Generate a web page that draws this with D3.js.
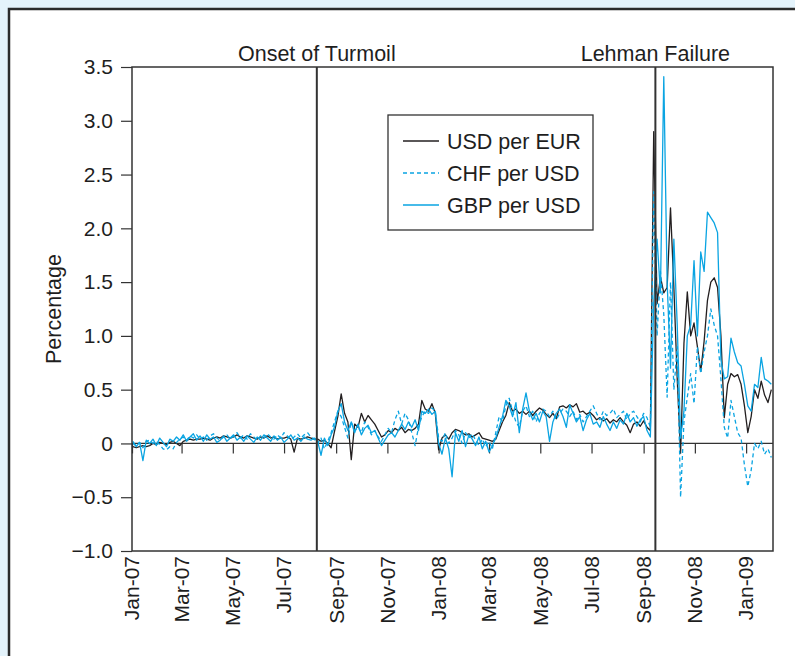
<!DOCTYPE html>
<html>
<head>
<meta charset="utf-8">
<script src="https://cdn.jsdelivr.net/npm/d3@7"></script>
<style>
  html, body { margin: 0; padding: 0; background: #e4f3fb; }
  svg { display: block; font-family: "Liberation Sans", Arial, sans-serif; }
</style>
</head>
<body>
<svg id="canvas" width="795" height="656"></svg>
<script>
// sampled every 4 days starting 2 Jan 2007
const sampleStart = "2007-01-02";
const sampleStepDays = 4;

const usdPerEur = [
  -0.03, -0.04, -0.03, -0.02, -0.03, -0.02, 0.00, -0.01, 0.01, 0.00,
  -0.01, 0.01, 0.02, 0.00, -0.02, 0.02, 0.03, 0.04, 0.03, 0.04,
  0.04, 0.05, 0.04, 0.03, 0.05, 0.06, 0.05, 0.07, 0.06, 0.05,
  0.06, 0.08, 0.06, 0.05, 0.07, 0.06, 0.05, 0.04, 0.06, 0.05,
  0.07, 0.05, 0.06, 0.04, 0.05, 0.05, 0.06, 0.04, -0.08, 0.05,
  0.04, 0.05, 0.06, 0.05, 0.04, 0.04, 0.02, 0.03, 0.00, -0.04,
  0.11, 0.25, 0.46, 0.28, 0.20, -0.15, 0.18, 0.15, 0.28, 0.20,
  0.26, 0.22, 0.18, 0.12, 0.06, 0.08, 0.12, 0.10, 0.14, 0.12,
  0.15, 0.10, 0.13, 0.12, 0.14, 0.18, 0.40, 0.32, 0.30, 0.37,
  0.28, -0.06, 0.05, 0.08, 0.04, 0.10, 0.13, 0.12, 0.10, 0.08,
  0.09, 0.06, 0.08, 0.10, 0.05, 0.04, 0.03, 0.02, 0.04, 0.12,
  0.20, 0.26, 0.38, 0.30, 0.32, 0.28, 0.30, 0.27, 0.30, 0.26,
  0.30, 0.33, 0.31, 0.27, 0.24, 0.28, 0.23, 0.34, 0.35, 0.33,
  0.36, 0.34, 0.37, 0.29, 0.30, 0.27, 0.29, 0.26, 0.22, 0.24,
  0.21, 0.23, 0.19, 0.22, 0.20, 0.24, 0.20, 0.17, 0.10, 0.18,
  0.20, 0.16, 0.21, 0.15, 0.12, 2.90, 1.30, 1.55, 1.40, 1.45,
  2.19, 1.45, 0.60, -0.09, 0.93, 1.41, 1.00, 1.12, 0.90, 0.67,
  0.95, 1.33, 1.50, 1.54, 1.45, 1.00, 0.24, 0.55, 0.65, 0.62,
  0.64, 0.55, 0.35, 0.10, 0.25, 0.50, 0.42, 0.58, 0.45, 0.38,
  0.50
];

const chfPerUsd = [
  0.00, -0.02, 0.01, -0.04, 0.02, 0.03, 0.00, 0.02, -0.01, -0.05,
  -0.06, -0.03, -0.05, 0.01, 0.04, 0.06, 0.03, 0.07, 0.05, 0.08,
  0.04, 0.06, 0.03, 0.07, 0.09, 0.05, 0.03, 0.06, 0.08, 0.04,
  0.07, 0.10, 0.05, 0.08, 0.04, 0.09, 0.06, 0.03, 0.07, 0.05,
  0.09, 0.06, 0.04, 0.08, 0.05, 0.10, 0.07, 0.04, 0.06, 0.09,
  0.05, 0.08, 0.10, 0.06, 0.04, 0.00, 0.05, -0.05, 0.02, 0.10,
  0.20, 0.30, 0.25, 0.15, 0.05, 0.20, 0.12, 0.15, 0.10, 0.20,
  0.15, 0.08, 0.12, 0.06, 0.02, 0.08, 0.14, 0.10, 0.22, 0.30,
  0.18, 0.28, 0.22, 0.10, -0.02, 0.15, 0.25, 0.30, 0.28, 0.33,
  0.30, 0.05, 0.02, 0.10, 0.00, 0.05, 0.12, 0.08, 0.00, 0.10,
  0.05, 0.09, 0.03, -0.02, 0.04, -0.03, 0.02, -0.05, 0.10, 0.25,
  0.20, 0.35, 0.42, 0.30, 0.20, 0.15, 0.30, 0.35, 0.25, 0.30,
  0.20, 0.28, 0.32, 0.30, 0.25, 0.30, 0.22, 0.28, 0.32, 0.30,
  0.25, 0.30, 0.22, 0.27, 0.20, 0.25, 0.30, 0.35, 0.28, 0.22,
  0.30, 0.26, 0.28, 0.32, 0.24, 0.27, 0.30, 0.22, 0.28, 0.30,
  0.25, 0.20, 0.28, 0.24, 0.15, 2.34, 1.00, 1.60, 1.20, 0.43,
  1.50, 0.50, 0.90, -0.50, 0.20, 0.43, 0.65, 0.37, 0.90, 0.65,
  0.85, 1.00, 1.25, 1.10, 1.00, 0.60, 0.15, 0.05, 0.40, 0.25,
  0.10, 0.05, -0.20, -0.40, -0.25, 0.00, -0.05, 0.02, -0.10, -0.05,
  -0.13
];

const gbpPerUsd = [
  0.02, -0.03, 0.01, -0.16, 0.03, 0.00, 0.04, -0.02, 0.05, 0.01,
  -0.03, 0.04, 0.02, 0.06, 0.03, 0.08, 0.02, 0.06, 0.09, 0.03,
  0.07, 0.02, 0.08, 0.04, 0.06, 0.01, 0.03, 0.07, 0.02, 0.05,
  0.08, 0.03, 0.06, 0.02, 0.07, 0.04, 0.01, 0.06, 0.03, 0.08,
  0.05, 0.02, 0.07, 0.03, 0.06, 0.01, 0.04, 0.08, 0.03, 0.05,
  0.02, 0.06, 0.04, 0.03, 0.05, 0.02, -0.11, 0.05, -0.02, 0.08,
  0.15, 0.30, 0.37, 0.20, 0.12, 0.20, 0.10, 0.18, 0.08, 0.14,
  0.17, 0.10, 0.12, 0.05, -0.02, 0.03, 0.08, 0.10, 0.06, 0.12,
  0.18, 0.13, 0.20, 0.15, 0.22, 0.12, 0.30, 0.28, 0.32, 0.27,
  0.30, 0.00, -0.10, 0.05, -0.05, -0.31, 0.10, 0.02, 0.12, -0.03,
  0.08, 0.04, -0.02, 0.06, -0.05, 0.02, -0.08, -0.02, 0.05, 0.15,
  0.25, 0.40, 0.35, 0.25, 0.38, 0.10, 0.32, 0.47, 0.30, 0.22,
  0.28, 0.20, 0.30, 0.25, 0.02, 0.20, 0.28, 0.32, 0.25, 0.15,
  0.36, 0.28, 0.20, 0.25, 0.12, 0.22, 0.28, 0.18, 0.20, 0.15,
  0.25, 0.18, 0.12, 0.20, 0.14, 0.22, 0.18, 0.28, 0.20, 0.24,
  0.16, 0.22, 0.25, 0.12, 0.06, 1.30, 1.90, 1.40, 3.41, 1.50,
  0.70, 1.90, 1.10, 0.05, 0.30, 1.00, 1.10, 1.70, 1.00, 1.78,
  1.60, 2.15, 2.10, 2.05, 1.96, 0.78, 0.60, 0.62, 0.98, 0.85,
  0.75, 0.72, 0.55, 0.35, 0.30, 0.55, 0.52, 0.80, 0.60, 0.58,
  0.55
];

const seriesNames = ["USD per EUR", "CHF per USD", "GBP per USD"];
const xTickLabels = ["Jan-07", "Mar-07", "May-07", "Jul-07", "Sep-07", "Nov-07", "Jan-08",
  "Mar-08", "May-08", "Jul-08", "Sep-08", "Nov-08", "Jan-09"];
const yTickValues = [3.5, 3.0, 2.5, 2.0, 1.5, 1.0, 0.5, 0, -0.5, -1.0];
const yTickLabels = ["3.5", "3.0", "2.5", "2.0", "1.5", "1.0", "0.5", "0", "\u22120.5", "\u22121.0"];
const eventLabels = ["Onset of Turmoil", "Lehman Failure"];
const eventDates = ["2007-08-09", "2008-09-15"];

const parseDay = d3.timeParse("%Y-%m-%d");
const parseMonth = d3.timeParse("%b-%y");
const start = parseDay(sampleStart);
const dates = usdPerEur.map((_, i) => d3.timeDay.offset(start, i * sampleStepDays));

const ink = "#1e1e1e";
const svg = d3.select("#canvas");

// outer panel
svg.append("rect")
  .attr("x", 9).attr("y", 9).attr("width", 800).attr("height", 660)
  .attr("fill", "#fff").attr("stroke", "#2b2b2b").attr("stroke-width", 2.5);

const plotLeft = 132, plotRight = 773, plotTop = 67, plotBottom = 551;

const x = d3.scaleTime()
  .domain([parseDay("2007-01-01"), parseDay("2009-02-02")])
  .range([plotLeft, plotRight]);
const y = d3.scaleLinear().domain([-1, 3.5]).range([plotBottom, plotTop]);

// y axis
const yAxis = svg.append("g")
  .attr("transform", "translate(" + plotLeft + ",0)")
  .call(d3.axisLeft(y).tickValues(yTickValues).tickSize(11).tickPadding(8)
    .tickFormat((d, i) => yTickLabels[i]));
yAxis.select(".domain").remove();
yAxis.selectAll("line").attr("stroke", "#333").attr("stroke-width", 1.2);
yAxis.selectAll("text").attr("font-size", 21).attr("fill", ink);
yAxis.attr("font-family", null).attr("font-size", null);

// zero line with month ticks hanging below
const zeroAxis = svg.append("g")
  .attr("transform", "translate(0," + y(0) + ")")
  .call(d3.axisBottom(x).tickValues(xTickLabels.map(parseMonth)).tickSize(10).tickFormat(""));
zeroAxis.select(".domain").attr("d", "M" + plotLeft + ",0H" + plotRight).attr("stroke", "#333").attr("stroke-width", 1.3);
zeroAxis.selectAll("line").attr("stroke", "#333").attr("stroke-width", 1.2);

// month labels under the plot
svg.append("g").selectAll("text")
  .data(xTickLabels)
  .join("text")
  .attr("transform", d => "translate(" + x(parseMonth(d)) + "," + (plotBottom + 5) + ") rotate(-90)")
  .attr("text-anchor", "end")
  .attr("dy", "0.35em")
  .attr("font-size", 21)
  .attr("fill", ink)
  .text(d => d);

// y label
svg.append("text")
  .attr("transform", "translate(53," + y(1.25) + ") rotate(-90)")
  .attr("text-anchor", "middle")
  .attr("dy", "0.35em")
  .attr("font-size", 21.5)
  .attr("fill", ink)
  .text("Percentage");

// series
const line = d3.line().x((d, i) => x(dates[i])).y(d => y(d));
const styles = [
  { data: usdPerEur, color: "#231f20", dash: null },
  { data: chfPerUsd, color: "#0aa4e2", dash: "4,3" },
  { data: gbpPerUsd, color: "#0aa4e2", dash: null }
];
svg.append("g").selectAll("path")
  .data(styles)
  .join("path")
  .attr("d", d => line(d.data))
  .attr("fill", "none")
  .attr("stroke", d => d.color)
  .attr("stroke-width", 1.3)
  .attr("stroke-dasharray", d => d.dash)
  .attr("stroke-linejoin", "round");

// plot frame
svg.append("rect")
  .attr("x", plotLeft).attr("y", plotTop).attr("width", plotRight - plotLeft).attr("height", plotBottom - plotTop)
  .attr("fill", "none").attr("stroke", "#333").attr("stroke-width", 1.5);

// event lines
const ev = svg.append("g").selectAll("g")
  .data(eventLabels)
  .join("g");
ev.append("line")
  .attr("x1", (d, i) => x(parseDay(eventDates[i])))
  .attr("x2", (d, i) => x(parseDay(eventDates[i])))
  .attr("y1", plotTop).attr("y2", plotBottom)
  .attr("stroke", "#333").attr("stroke-width", 2);
ev.append("text")
  .attr("x", (d, i) => x(parseDay(eventDates[i])))
  .attr("y", plotTop - 6)
  .attr("text-anchor", "middle")
  .attr("font-size", 21.5)
  .attr("fill", ink)
  .text(d => d);

// legend
const legend = svg.append("g");
legend.append("rect")
  .attr("x", 388).attr("y", 115).attr("width", 205).attr("height", 115)
  .attr("fill", "#fff").attr("stroke", "#333").attr("stroke-width", 1.3);
const rows = legend.selectAll("g.row")
  .data(seriesNames)
  .join("g")
  .attr("class", "row")
  .attr("transform", (d, i) => "translate(0," + (141 + i * 32) + ")");
rows.append("line")
  .attr("x1", 403).attr("x2", 439)
  .attr("stroke", (d, i) => styles[i].color)
  .attr("stroke-width", 1.3)
  .attr("stroke-dasharray", (d, i) => styles[i].dash);
rows.append("text")
  .attr("x", 447)
  .attr("dy", "0.35em")
  .attr("font-size", 21.5)
  .attr("fill", ink)
  .text(d => d);
</script>
</body>
</html>
